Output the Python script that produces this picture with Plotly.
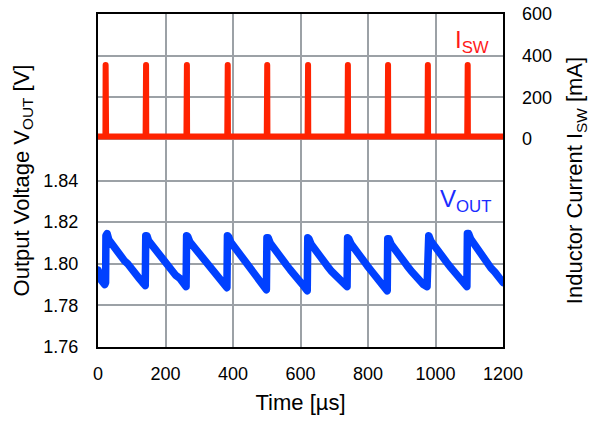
import plotly.graph_objects as go

# ---- data ----
time_ticks = [0, 200, 400, 600, 800, 1000, 1200]
time_tick_text = ["0", "200", "400", "600", "800", "1000", "1200"]

vout_ticks = [1.76, 1.78, 1.80, 1.82, 1.84, 1.86, 1.88, 1.90, 1.92]
vout_tick_text = ["1.76", "1.78", "1.80", "1.82", "1.84", "", "", "", ""]

isw_ticks = [-1000, -800, -600, -400, -200, 0, 200, 400, 600]
isw_tick_text = ["", "", "", "", "", "0", "200", "400", "600"]

# Inductor current (mA) vs time (us)
isw_t = [0, 22, 22.6, 23.4, 24,
         141, 141.6, 142.4, 143,
         262, 262.6, 263.4, 264,
         383, 383.6, 384.4, 385,
         500, 500.6, 501.4, 502,
         621, 621.6, 622.4, 623,
         739, 739.6, 740.4, 741,
         858, 858.6, 859.4, 860,
         976, 976.6, 977.4, 978,
         1094, 1094.6, 1095.4, 1096,
         1200]
isw_v = [12, 12, 355, 355, 12,
         12, 355, 355, 12,
         12, 355, 355, 12,
         12, 355, 355, 12,
         12, 355, 355, 12,
         12, 355, 355, 12,
         12, 355, 355, 12,
         12, 355, 355, 12,
         12, 355, 355, 12,
         12, 355, 355, 12,
         12]

# Output voltage (V) vs time (us)
vout_t = [0, 4, 10, 20, 22.5, 23.5, 27, 32, 40, 50, 58, 65, 78, 88, 98, 110, 122, 132, 140,
          141.5, 145, 150, 162, 175, 185, 195, 205, 218, 230, 242, 252, 261,
          262.5, 266, 272, 282, 295, 307, 318, 330, 342, 355, 368, 382,
          383.5, 387, 393, 405, 418, 428, 440, 452, 464, 476, 488, 499,
          500.5, 504, 510, 522, 534, 546, 558, 570, 582, 594, 606, 620,
          621.5, 625, 631, 643, 655, 667, 679, 691, 703, 715, 727, 738,
          739.5, 743, 750, 762, 774, 786, 798, 810, 822, 834, 846, 857,
          858.5, 862, 868, 880, 892, 904, 916, 928, 940, 952, 964, 975,
          976.5, 980, 986, 998, 1010, 1022, 1034, 1046, 1058, 1070, 1082, 1093,
          1094.5, 1098, 1104, 1116, 1128, 1140, 1152, 1164, 1176, 1188, 1200]
vout_v = [1.797, 1.794, 1.792, 1.790, 1.791, 1.8135, 1.8145, 1.8115, 1.8095, 1.8075, 1.806, 1.8035,
          1.8015, 1.800, 1.7975, 1.7955, 1.793, 1.791, 1.7895,
          1.8135, 1.8135, 1.811, 1.8085, 1.806, 1.8035, 1.801, 1.7995, 1.797, 1.7945, 1.793, 1.7905, 1.789,
          1.8135, 1.813, 1.8105, 1.8085, 1.8055, 1.803, 1.801, 1.798, 1.796, 1.7935, 1.791, 1.7885,
          1.8135, 1.813, 1.8105, 1.808, 1.805, 1.803, 1.8005, 1.798, 1.7955, 1.7935, 1.791, 1.7875,
          1.8125, 1.8125, 1.810, 1.807, 1.8045, 1.802, 1.7995, 1.797, 1.795, 1.7925, 1.790, 1.787,
          1.8125, 1.812, 1.8095, 1.8065, 1.804, 1.8015, 1.799, 1.7965, 1.7945, 1.792, 1.790, 1.789,
          1.8125, 1.812, 1.8095, 1.8065, 1.804, 1.8015, 1.799, 1.7965, 1.794, 1.792, 1.789, 1.787,
          1.812, 1.812, 1.8095, 1.8065, 1.804, 1.8015, 1.799, 1.7965, 1.794, 1.792, 1.790, 1.789,
          1.8135, 1.8135, 1.811, 1.808, 1.8055, 1.803, 1.8005, 1.798, 1.7955, 1.7935, 1.791, 1.789,
          1.8145, 1.8145, 1.812, 1.809, 1.806, 1.8035, 1.801, 1.798, 1.796, 1.794, 1.791]

RED = "#ff2200"
BLUE = "#0040ff"
FONT = "Liberation Sans, Arial, sans-serif"
GRID = "#9ca1a6"

fig = go.Figure()
fig.add_trace(go.Scatter(x=isw_t, y=isw_v, mode="lines", yaxis="y2",
                         line=dict(color=RED, width=6), showlegend=False))
fig.add_trace(go.Scatter(x=vout_t, y=vout_v, mode="lines", yaxis="y",
                         line=dict(color=BLUE, width=7.5), showlegend=False))

fig.update_layout(
    width=590, height=423,
    margin=dict(l=98, r=87, t=14, b=76),
    paper_bgcolor="white", plot_bgcolor="white",
    font=dict(family=FONT, size=18, color="black"),
    xaxis=dict(range=[0, 1200], tickvals=time_ticks, ticktext=time_tick_text,
               showgrid=True, gridcolor=GRID, gridwidth=1.5, automargin=False,
               showline=True, linecolor="black", linewidth=2, mirror=True,
               ticks="", ticklabelstandoff=9, zeroline=False,
               title=dict(text="Time [µs]", standoff=12)),
    yaxis=dict(range=[1.76, 1.92], tickvals=vout_ticks, ticktext=vout_tick_text,
               showgrid=True, gridcolor=GRID, gridwidth=1.5, automargin=False,
               showline=True, linecolor="black", linewidth=2, mirror=True,
               ticks="", ticklabelstandoff=14, zeroline=False,
               title=dict(text="Output Voltage V<sub>OUT</sub> [V]", standoff=8)),
    yaxis2=dict(range=[-1000, 600], tickvals=isw_ticks, ticktext=isw_tick_text,
                overlaying="y", side="right", showgrid=False, zeroline=False,
                showline=False, ticks="", ticklabelstandoff=18, automargin=False,
                title=dict(text="Inductor Current I<sub>SW</sub> [mA]", standoff=17)),
)

fig.add_annotation(x=1108, y=470, xref="x", yref="y2", text="I<sub>SW</sub>",
                   showarrow=False, font=dict(family=FONT, size=24, color="#ff1a1a"))
fig.add_annotation(x=1090, y=1.8305, xref="x", yref="y", text="V<sub>OUT</sub>",
                   showarrow=False, font=dict(family=FONT, size=24, color="#1a2cff"))

post = ("document.body.style.margin='0px';"
        "document.querySelectorAll('.js-line').forEach(function(p){"
        "p.style.strokeLinejoin='round';p.style.strokeLinecap='round';});")
fig.write_html("out.html", post_script=post, config={"displayModeBar": False})
